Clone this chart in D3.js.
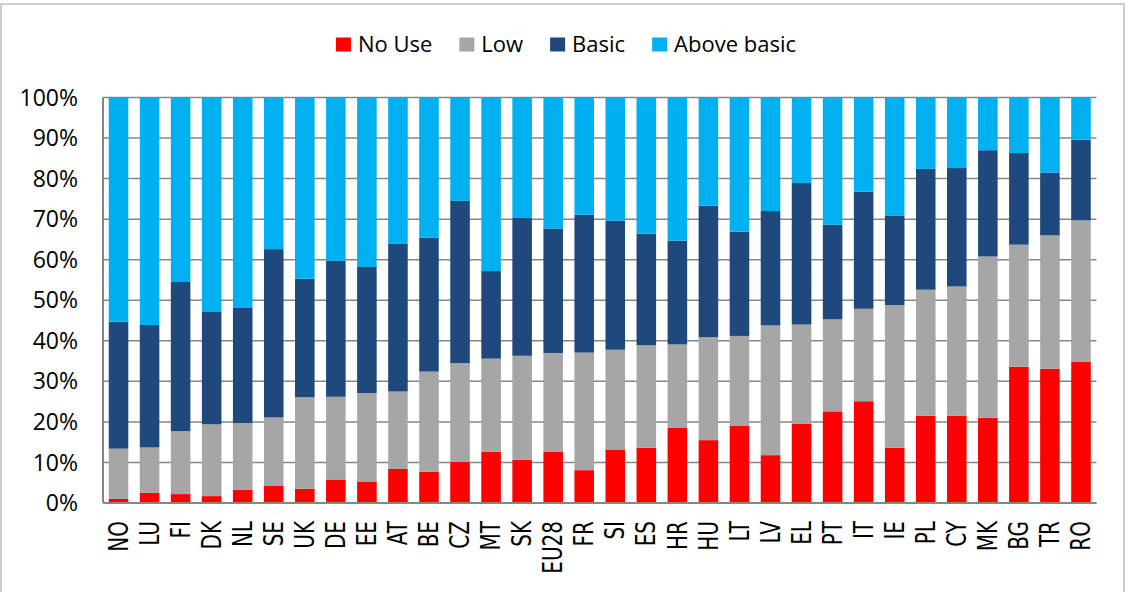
<!DOCTYPE html>
<html>
<head>
<meta charset="utf-8">
<script src="https://cdn.jsdelivr.net/npm/d3@7"></script>
<style>
  body { margin: 0; background: #fff; }
  svg text { fill: #000; }
</style>
</head>
<body>
<div id="chart"></div>
<script>
var width = 1129;
var height = 592;

// share of people by level (%)
var countries = ["NO","LU","FI","DK","NL","SE","UK","DE","EE","AT","BE","CZ","MT","SK","EU28","FR",
                 "SI","ES","HR","HU","LT","LV","EL","PT","IT","IE","PL","CY","MK","BG","TR","RO"];
var noUse = [1.0,2.5,2.2,1.7,3.3,4.2,3.5,5.8,5.3,8.4,7.7,10.1,12.6,10.7,12.7,8.1,
             13.2,13.6,18.5,15.5,19.0,11.8,19.5,22.6,25.1,13.6,21.5,21.5,21.0,33.6,33.1,34.8];
var low = [12.4,11.2,15.5,17.7,16.4,16.9,22.6,20.4,21.8,19.1,24.7,24.4,23.0,25.6,24.3,29.0,
           24.6,25.3,20.6,25.4,22.2,32.0,24.5,22.7,22.8,35.2,31.1,31.9,39.8,30.1,32.9,34.9];
var basic = [31.3,30.2,36.8,27.7,28.4,41.5,29.2,33.5,31.1,36.4,33.0,40.0,21.6,34.0,30.7,34.0,
             31.8,27.5,25.6,32.4,25.7,28.2,34.9,23.3,28.9,22.0,29.8,29.2,26.2,22.6,15.5,19.9];
var aboveBasic = [55.3,56.1,45.5,52.9,51.9,37.4,44.7,40.3,41.8,36.1,34.6,25.5,42.8,29.7,32.3,28.9,
                  30.4,33.6,35.3,26.7,33.1,28.0,21.1,31.4,23.2,29.2,17.6,17.4,13.0,13.7,18.5,10.4];

var seriesNames = ["No Use", "Low", "Basic", "Above basic"];
var seriesKeys = ["noUse", "low", "basic", "aboveBasic"];
var colors = ["#ff0000", "#a6a6a6", "#1f497d", "#00b0f0"];
var yTicks = [0, 10, 20, 30, 40, 50, 60, 70, 80, 90, 100];

var rows = countries.map(function(c, i){
    return { country: c, noUse: noUse[i], low: low[i], basic: basic[i], aboveBasic: aboveBasic[i] };
});

var svg = d3.select("#chart")
            .append("svg")
            .attr("width", width)
            .attr("height", height);

// outer frame
svg.append("rect")
    .attr("x", 1).attr("y", 4)
    .attr("width", 1123).attr("height", 620)
    .attr("fill", "none")
    .attr("stroke", "#bfbfbf")
    .attr("stroke-width", 1.5);

var plotLeft = 103, plotRight = 1096.5, plotTop = 97.5, plotBottom = 503;

var x = d3.scaleBand()
    .domain(countries)
    .range([plotLeft, plotRight])
    .paddingInner(0.37)
    .paddingOuter(0.185);

var y = d3.scaleLinear()
    .domain([0, 100])
    .range([plotBottom, plotTop]);

// gridlines
svg.append("g")
    .selectAll("line")
    .data(yTicks)
    .enter()
    .append("line")
    .attr("x1", plotLeft)
    .attr("x2", plotRight)
    .attr("y1", function(d){ return y(d); })
    .attr("y2", function(d){ return y(d); })
    .attr("stroke", "#868686")
    .attr("stroke-width", 1.5);

var stack = d3.stack().keys(seriesKeys);
var layers = stack(rows);

svg.append("g")
    .selectAll("g")
    .data(layers)
    .enter()
    .append("g")
    .attr("fill", function(d, i){ return colors[i]; })
    .selectAll("rect")
    .data(function(d){ return d; })
    .enter()
    .append("rect")
    .attr("x", function(d){ return x(d.data.country); })
    .attr("width", x.bandwidth())
    .attr("y", function(d){ return y(d[1]); })
    .attr("height", function(d){ return y(d[0]) - y(d[1]); });

// axis lines
svg.append("line")
    .attr("x1", plotLeft).attr("x2", plotLeft)
    .attr("y1", plotTop).attr("y2", plotBottom)
    .attr("stroke", "#868686").attr("stroke-width", 2);
svg.append("line")
    .attr("x1", plotLeft).attr("x2", plotRight)
    .attr("y1", plotBottom).attr("y2", plotBottom)
    .attr("stroke", "#868686").attr("stroke-width", 2);

// y labels
svg.append("g")
    .selectAll("text")
    .data(yTicks)
    .enter()
    .append("text")
    .attr("x", 78)
    .attr("y", function(d){ return y(d); })
    .attr("dy", "0.35em")
    .attr("text-anchor", "end")
    .style("font-family", "'Open Sans', sans-serif")
    .style("font-size", "23px")
    .text(function(d){ return d + "%"; });

// x labels, rotated
svg.append("g")
    .selectAll("text")
    .data(countries)
    .enter()
    .append("text")
    .attr("transform", function(d){
        return "translate(" + (x(d) + x.bandwidth() / 2) + ",521) rotate(-90) scale(1,1.37)";
    })
    .attr("text-anchor", "end")
    .attr("dominant-baseline", "central")
    .style("font-family", "'DejaVu Sans', sans-serif")
    .style("font-size", "20px")
    .text(function(d){ return d; });

// legend
var legend = svg.append("g");
var pos = 0;
seriesNames.forEach(function(name, i){
    var item = legend.append("g").attr("transform", "translate(" + pos + ",0)");
    item.append("rect")
        .attr("x", 0).attr("y", 37.5)
        .attr("width", 15).attr("height", 14)
        .attr("fill", colors[i]);
    var t = item.append("text")
        .attr("x", 22).attr("y", 51.5)
        .style("font-family", "'Open Sans', sans-serif")
        .style("font-size", "22px")
        .text(name);
    pos += 22 + t.node().getComputedTextLength() + 27;
});
var legendWidth = pos - 27;
legend.attr("transform", "translate(" + (566 - legendWidth / 2) + ",0)");
</script>
</body>
</html>
